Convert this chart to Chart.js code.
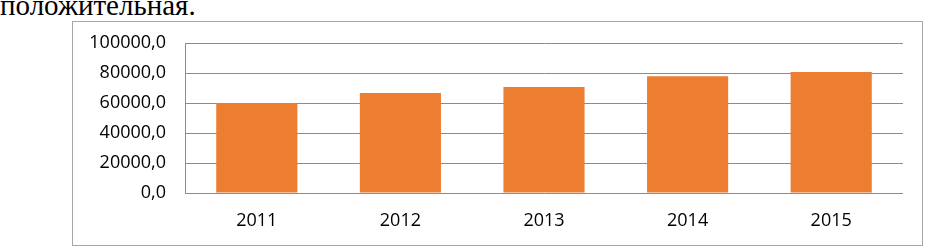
<!DOCTYPE html>
<html>
<head>
<meta charset="utf-8">
<script src="https://cdn.jsdelivr.net/npm/chart.js@4/dist/chart.umd.min.js"></script>
<style>
  body { margin: 0; background: #fff; width: 926px; height: 246px; overflow: hidden; position: relative; }
  #lead { position: absolute; left: 0; top: -15px; font-family: "Liberation Serif", serif; font-size: 29px; line-height: 40px; color: #000; white-space: nowrap; }
  #frame { position: absolute; left: 72px; top: 21px; width: 849px; height: 223px; border: 1px solid #a6a6a6; }
  #wrap { position: absolute; left: 0; top: 0; width: 926px; height: 246px; }
</style>
</head>
<body>
<div id="lead">положительная.</div>
<div id="frame"></div>
<div id="wrap"><canvas id="chart" width="926" height="246"></canvas></div>
<script>
const years = ["2011", "2012", "2013", "2014", "2015"];
const values = [60000, 66700, 70700, 77800, 80700];
const yTicks = [0, 20000, 40000, 60000, 80000, 100000];

const ctx = document.querySelector("#chart");
const chart = new Chart(ctx, {
  type: "bar",
  data: {
    labels: years,
    datasets: [
      {
        label: "values",
        data: values,
        backgroundColor: "#ed7d31",
        barPercentage: 0.565,
        categoryPercentage: 1,
      },
    ],
  },
  options: {
    responsive: false,
    animation: false,
    layout: { padding: { left: 0, right: 23, top: 43, bottom: 0 } },
    plugins: { legend: { display: false }, tooltip: { enabled: false } },
    scales: {
      x: {
        grid: { display: false, drawTicks: false },
        border: { display: false },
        ticks: { color: "#000", padding: 17, font: { family: "Open Sans", size: 18 } },
        afterFit: (scale) => { scale.height = 53; },
      },
      y: {
        min: 0,
        max: 100000,
        afterBuildTicks: (scale) => { scale.ticks = yTicks.map((v) => ({ value: v })); },
        grid: { color: "#8c8c8c", drawTicks: false },
        border: { display: true, color: "#8c8c8c" },
        ticks: {
          color: "#000",
          padding: 19,
          font: { family: "Open Sans", size: 18 },
          callback: (v) => v.toFixed(1).replace(".", ","),
        },
        afterFit: (scale) => { scale.width = 185; },
      },
    },
  },
});
</script>
</body>
</html>
